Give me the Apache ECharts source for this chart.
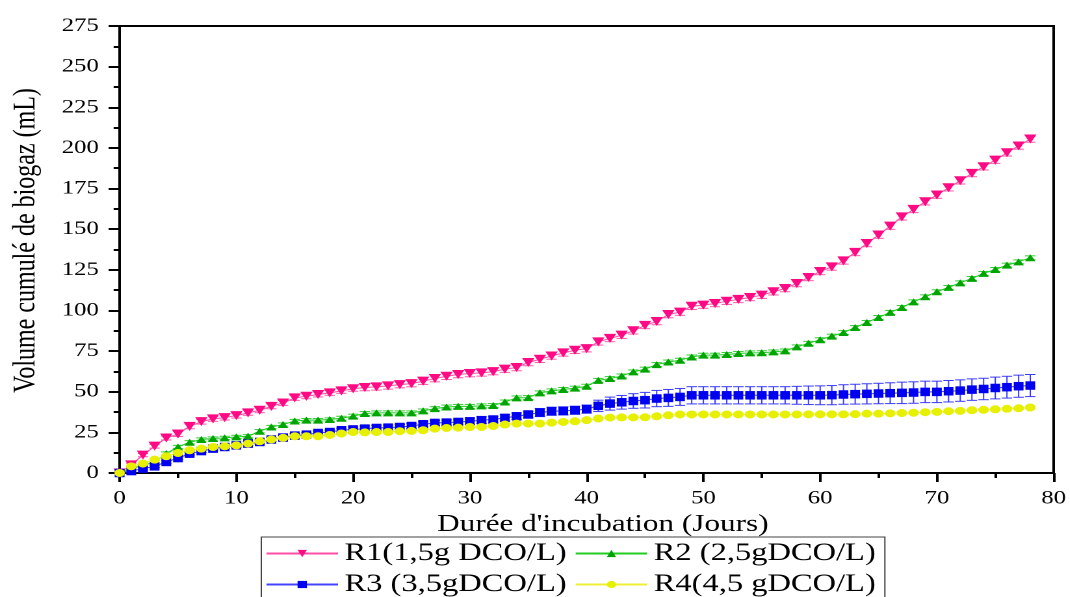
<!DOCTYPE html>
<html>
<head>
<meta charset="utf-8">
<script src="https://cdn.jsdelivr.net/npm/echarts@6/dist/echarts.min.js"></script>
<style>
  html, body { margin: 0; padding: 0; background: #fff; overflow: hidden; }
  /* the figure is drawn narrow and widened horizontally */
  #chart { width: 823px; height: 597px; transform: scaleX(1.3); transform-origin: 0 0; }
</style>
</head>
<body>
<div id="chart"></div>
<script>
// Cumulative biogas volume (mL), one value per day of incubation (day = index)
const seriesNames = ['R1(1,5g DCO/L)', 'R2 (2,5gDCO/L)', 'R3 (3,5gDCO/L)', 'R4(4,5 gDCO/L)'];

const r1 = [0, 5, 11, 16.5, 21.5, 24, 28.7, 31.6, 33.3, 34.1,
  35.3, 37, 38.6, 41, 43.1, 46.2, 47.2, 48.3, 49.3, 50.5,
  51.8, 52.6, 53, 53.6, 54.4, 55, 56.5, 58.1, 59.5, 60.6,
  61.2, 61.6, 62.4, 63.9, 64.9, 68, 70, 72, 73.9, 75.5,
  76.5, 80.7, 82.8, 84.8, 87.5, 90.8, 93.2, 97.5, 99, 102.6,
  103.3, 104.3, 105.7, 106.8, 108, 109.4, 111.5, 113.5, 116.6, 120.3,
  124, 126.8, 130.5, 135.7, 141.2, 146.4, 151.9, 157.6, 162.2, 166.9,
  171, 175.5, 179.8, 184.3, 188.4, 192.5, 197, 201.2, 205.5];

const r2 = [0, 2.7, 4.7, 6.8, 12, 16, 18.9, 20.6, 21.2, 21.6,
  22.2, 22.6, 25.7, 28.3, 29.8, 32, 32.5, 32.5, 32.9, 33.7,
  35, 36.6, 37, 37, 37, 37, 38.2, 39.6, 40.6, 41,
  41, 41.3, 41.5, 43.7, 46.2, 46.4, 49.3, 50.5, 51.4, 52.2,
  53.4, 57, 58.1, 59.7, 62.2, 63.9, 66.7, 68.3, 69.4, 71.4,
  72.5, 72.5, 72.9, 73.5, 73.9, 74, 74.5, 75.1, 77.6, 79.8,
  82, 84.2, 86.4, 89.5, 92.6, 95.7, 98.8, 101.8, 105.3, 108.4,
  111.5, 114.2, 117, 119.7, 122.8, 125.2, 127.9, 129.9, 132.4];

const r3 = [0, 1.2, 2.7, 4.1, 6.8, 9.2, 11.9, 13.5, 15, 16,
  17, 18.1, 19.1, 20.6, 21.8, 23, 23.6, 24.6, 25.2, 26.3,
  26.8, 27.3, 27.7, 27.9, 28.3, 28.9, 30, 30.8, 31, 31.4,
  31.8, 32.5, 32.9, 33.9, 34.9, 36, 37.2, 38, 38.2, 38.6,
  39.3, 41.3, 42.7, 43.5, 44.3, 44.8, 45.8, 46.2, 46.8, 47.8,
  47.8, 47.8, 47.8, 47.8, 47.8, 47.8, 47.8, 47.8, 47.8, 47.8,
  47.8, 47.9, 48.3, 48.5, 48.7, 48.9, 49.1, 49.3, 49.5, 49.9,
  49.9, 50.3, 50.7, 51.3, 51.7, 52.3, 52.8, 53.4, 53.8];

const r4 = [0, 4.1, 5.8, 8.2, 10.3, 12.3, 14, 15, 16, 16.4,
  17, 18.1, 19.5, 20.6, 21.6, 22.6, 22.6, 22.6, 23.4, 24.3,
  25.2, 25, 25.2, 25.2, 25.7, 25.9, 26.3, 27.3, 27.7, 27.9,
  28.3, 28.3, 28.9, 29.8, 30.4, 30.4, 30.4, 31, 31.4, 31.8,
  32.5, 33.5, 34.1, 34.2, 34.2, 34.3, 34.9, 35.5, 36, 36,
  36, 36, 36, 36, 36, 36, 36, 36, 36, 36.1,
  36.1, 36.1, 36.1, 36.2, 36.5, 36.5, 36.7, 36.9, 37.1, 37.4,
  37.6, 38, 38.2, 38.6, 38.9, 39.2, 39.5, 39.8, 40.3];

// Standard deviations (mL), same day indexing
const r1Err = [0, 1, 1, 1.2, 1.2, 1.5, 1.5, 1.5, 1.5, 1.5,
  1.5, 1.5, 1.5, 1.5, 1.5, 1.5, 1.5, 1.5, 1.5, 1.5,
  1.5, 2, 2, 2, 2, 2, 2, 2, 2, 2,
  2, 2, 2, 2, 2, 2, 2, 2, 2, 2,
  2, 2, 2, 2, 2, 2, 2, 2, 2, 2,
  2, 2, 2, 2, 2, 2, 2, 2, 2, 2,
  2, 2, 2, 2, 2, 2, 2, 2, 2, 2,
  2, 2, 2, 2, 2, 2, 2, 2, 2];

const r2Err = [0, 0.8, 0.8, 0.8, 1, 1, 1, 1, 1, 1,
  1, 1, 1, 1, 1, 1, 1, 1, 1, 1.2,
  1.2, 1.2, 1.2, 1.2, 1.2, 1.2, 1.2, 1.2, 1.2, 1.2,
  1.2, 1.2, 1.2, 1.2, 1.2, 1.2, 1.2, 1.2, 1.2, 1.2,
  1.2, 1.2, 1.2, 1.2, 1.2, 1.2, 1.2, 1.2, 1.2, 1.2,
  1.2, 1.2, 1.2, 1.2, 1.2, 1.2, 1.2, 1.2, 1.2, 1.2,
  1.2, 1.2, 1.2, 1.2, 1.2, 1.2, 1.2, 1.2, 1.2, 1.2,
  1.2, 1.2, 1.2, 1.2, 1.2, 1.2, 1.2, 1.2, 1.2];

const r3Err = [0, 0.8, 0.8, 0.8, 0.8, 0.8, 0.8, 0.8, 0.8, 0.8,
  1.2, 1.2, 1.2, 1.2, 1.2, 1.2, 1.2, 1.2, 1.2, 1.2,
  1.6, 1.6, 1.6, 1.6, 1.6, 1.6, 1.6, 1.6, 1.6, 1.6,
  2, 2, 2, 2, 2, 2, 2.5, 2.5, 2.5, 2.5,
  2.5, 3.5, 4, 4.2, 4.5, 4.8, 5, 5.2, 5.2, 5.3,
  5.3, 5.3, 5.3, 5.3, 5.3, 5.3, 5.3, 5.3, 5.5, 5.7,
  5.8, 5.9, 6, 6.1, 6.2, 6.3, 6.4, 6.6, 6.6, 6.6,
  6.6, 6.6, 6.6, 6.6, 6.6, 6.7, 6.7, 6.8, 6.8];

const r4Err = [0, 0.6, 0.6, 0.6, 0.6, 0.6, 0.6, 0.6, 0.6, 0.6,
  0.8, 0.8, 0.8, 0.8, 0.8, 0.8, 0.8, 0.8, 0.8, 0.8,
  0.8, 0.8, 0.8, 0.8, 0.8, 0.8, 0.8, 0.8, 0.8, 0.8,
  0.8, 0.8, 0.8, 0.8, 0.8, 0.8, 0.8, 0.8, 0.8, 0.8,
  0.8, 0.8, 0.8, 0.8, 0.8, 0.8, 0.8, 0.8, 0.8, 0.8,
  0.8, 0.8, 0.8, 0.8, 0.8, 0.8, 0.8, 0.8, 0.8, 0.8,
  0.8, 0.8, 0.8, 0.8, 0.8, 0.8, 0.8, 0.8, 0.8, 0.8,
  0.8, 0.8, 0.8, 0.8, 0.8, 0.8, 0.8, 0.8, 0.8];

const FONT = '"Liberation Serif", "Times New Roman", serif';

const styles = [
  { values: r1, errors: r1Err, symbol: 'triangle', rotate: 180, size: [9.5, 9], marker: '#ff0a84', line: '#ff4da6', bar: '#ff5aa8' },
  { values: r2, errors: r2Err, symbol: 'triangle', rotate: 0, size: [8, 7], marker: '#00a400', line: '#22cc22', bar: '#33cc33' },
  { values: r3, errors: r3Err, symbol: 'rect', rotate: 0, size: [7.5, 8.5], marker: '#0000f0', line: '#4444ff', bar: '#3a3aff' },
  { values: r4, errors: r4Err, symbol: 'circle', rotate: 0, size: [8, 8], marker: '#e6f000', line: '#eef033', bar: '#e8ee30' }
];

function toPoints(values) {
  return values.map((v, day) => [day, v]);
}
function toErrorBars(values, errors) {
  return values.map((v, day) => [day, v - errors[day], v + errors[day]]);
}

function errorBarRenderer(color, capHalf) {
  return function (params, api) {
    const x = api.value(0);
    const top = api.coord([x, api.value(2)]);
    const bot = api.coord([x, api.value(1)]);
    const st = { stroke: color, lineWidth: 1 };
    return {
      type: 'group',
      children: [
        { type: 'line', shape: { x1: top[0], y1: top[1], x2: bot[0], y2: bot[1] }, style: st },
        { type: 'line', shape: { x1: top[0] - capHalf, y1: top[1], x2: top[0] + capHalf, y2: top[1] }, style: st },
        { type: 'line', shape: { x1: bot[0] - capHalf, y1: bot[1], x2: bot[0] + capHalf, y2: bot[1] }, style: st }
      ]
    };
  };
}

const series = [];
styles.forEach((s, i) => {
  series.push({
    name: seriesNames[i] + ' SD',
    type: 'custom',
    z: 1,
    silent: true,
    renderItem: errorBarRenderer(s.bar, 4),
    data: toErrorBars(s.values, s.errors)
  });
});
styles.forEach((s, i) => {
  series.push({
    name: seriesNames[i],
    type: 'line',
    z: 3,
    data: toPoints(s.values),
    symbol: s.symbol,
    symbolRotate: s.rotate,
    symbolSize: s.size,
    showAllSymbol: true,
    itemStyle: { color: s.marker },
    lineStyle: { color: s.line, width: 1 },
    animation: false
  });
});

const chart = echarts.init(document.getElementById('chart'), null, { renderer: 'canvas', devicePixelRatio: 2 });

chart.setOption({
  animation: false,
  backgroundColor: '#fff',
  textStyle: { fontFamily: FONT },
  grid: {
    left: 90, right: 12, top: 26, bottom: 124,
    show: true, borderColor: '#000', borderWidth: 2, backgroundColor: 'transparent'
  },
  legend: {
    data: seriesNames,
    left: 201, top: 537,
    orient: 'horizontal',
    width: 480,
    padding: [4, 7, 6, 3],
    itemGap: 6,
    itemWidth: 55,
    itemHeight: 9,
    borderColor: '#444',
    borderWidth: 1,
    textStyle: { fontSize: 25, color: '#000', fontFamily: FONT, padding: [0, 9, 0, 0] }
  },
  xAxis: {
    type: 'value',
    min: 0, max: 80, interval: 10,
    name: "Durée d'incubation (Jours)",
    nameLocation: 'middle',
    nameGap: 26,
    nameTextStyle: { fontSize: 24, color: '#000', fontFamily: FONT, padding: [0, 0, 0, 25] },
    axisLine: { show: true, onZero: false, lineStyle: { color: '#000', width: 2 } },
    axisTick: { show: true, inside: false, length: 9, lineStyle: { color: '#000', width: 2 } },
    minorTick: { show: true, splitNumber: 2, length: 5, lineStyle: { color: '#000', width: 2 } },
    splitLine: { show: false },
    axisLabel: { fontSize: 19, color: '#000', margin: 16, fontFamily: FONT }
  },
  yAxis: {
    type: 'value',
    min: 0, max: 275, interval: 25,
    name: 'Volume cumulé de biogaz (mL)',
    nameLocation: 'middle',
    nameGap: 60,
    nameTextStyle: { fontSize: 24, color: '#000', fontFamily: FONT, padding: [0, 0, 0, 18] },
    axisLine: { show: true, onZero: false, lineStyle: { color: '#000', width: 2 } },
    axisTick: { show: true, inside: false, length: 8.5, lineStyle: { color: '#000', width: 2 } },
    minorTick: { show: true, splitNumber: 2, length: 4.6, lineStyle: { color: '#000', width: 2 } },
    splitLine: { show: false },
    axisLabel: { fontSize: 19, color: '#000', margin: 16, fontFamily: FONT }
  },
  series: series
});
</script>
</body>
</html>
